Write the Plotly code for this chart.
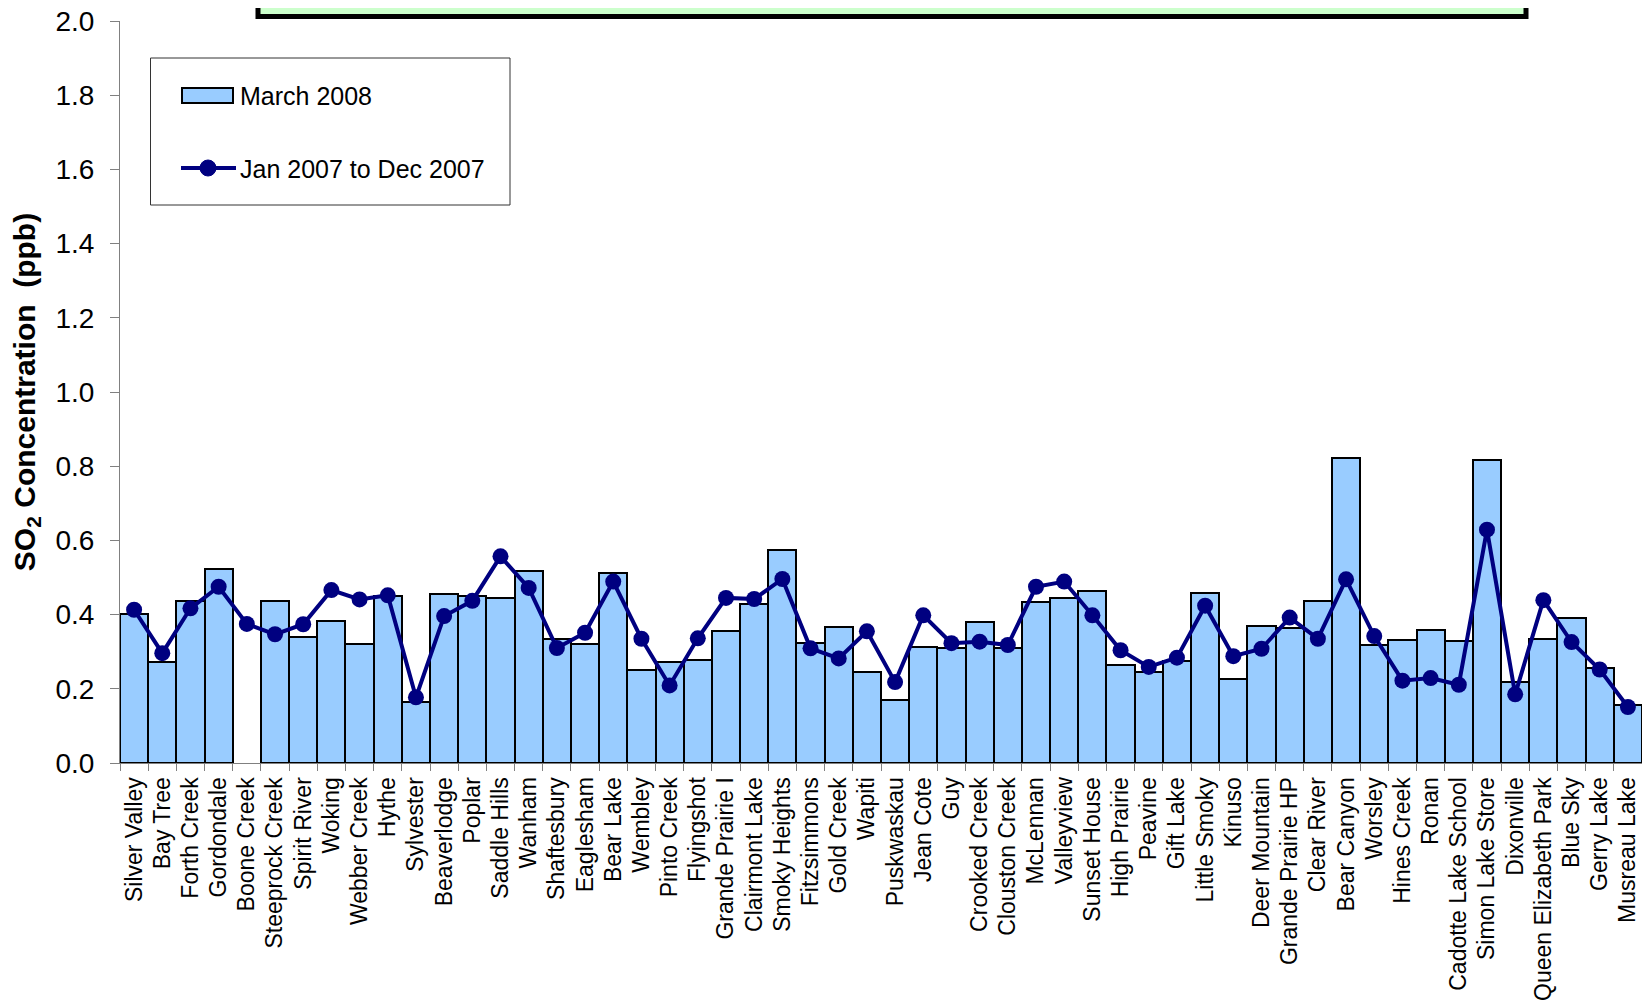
import plotly.graph_objects as go

stations = [
    "Silver Valley", "Bay Tree", "Forth Creek", "Gordondale", "Boone Creek",
    "Steeprock Creek", "Spirit River", "Woking", "Webber Creek", "Hythe",
    "Sylvester", "Beaverlodge", "Poplar", "Saddle Hills", "Wanham",
    "Shaftesbury", "Eaglesham", "Bear Lake", "Wembley", "Pinto Creek",
    "Flyingshot", "Grande Prairie I", "Clairmont Lake", "Smoky Heights",
    "Fitzsimmons", "Gold Creek", "Wapiti", "Puskwaskau", "Jean Cote", "Guy",
    "Crooked Creek", "Clouston Creek", "McLennan", "Valleyview", "Sunset House",
    "High Prairie", "Peavine", "Gift Lake", "Little Smoky", "Kinuso",
    "Deer Mountain", "Grande Prairie HP", "Clear River", "Bear Canyon",
    "Worsley", "Hines Creek", "Ronan", "Cadotte Lake School",
    "Simon Lake Store", "Dixonville", "Queen Elizabeth Park", "Blue Sky",
    "Gerry Lake", "Musreau Lake",
]

march_2008 = [
    0.401, 0.273, 0.438, 0.522, None, 0.438, 0.340, 0.383, 0.322, 0.450,
    0.165, 0.455, 0.449, 0.445, 0.518, 0.333, 0.322, 0.511, 0.251, 0.271,
    0.277, 0.355, 0.428, 0.575, 0.323, 0.367, 0.244, 0.171, 0.313, 0.309,
    0.380, 0.310, 0.435, 0.445, 0.463, 0.264, 0.245, 0.274, 0.459, 0.227,
    0.369, 0.365, 0.436, 0.822, 0.319, 0.332, 0.358, 0.328, 0.817, 0.217,
    0.333, 0.390, 0.257, 0.156,
]

year_2007 = [
    0.413, 0.296, 0.417, 0.475, 0.375, 0.347, 0.374, 0.466, 0.441, 0.452,
    0.177, 0.396, 0.437, 0.557, 0.472, 0.310, 0.351, 0.489, 0.335, 0.209,
    0.336, 0.445, 0.442, 0.496, 0.309, 0.282, 0.355, 0.218, 0.398, 0.323,
    0.327, 0.318, 0.475, 0.489, 0.398, 0.304, 0.259, 0.284, 0.424, 0.288,
    0.308, 0.392, 0.335, 0.495, 0.342, 0.222, 0.229, 0.211, 0.629, 0.185,
    0.439, 0.326, 0.252, 0.151,
]

y_ticks = [0.0, 0.2, 0.4, 0.6, 0.8, 1.0, 1.2, 1.4, 1.6, 1.8, 2.0]

FONT = "Liberation Sans, Arial, sans-serif"
OFF = 8  # default page body margin
W, H = 1650 - OFF, 1003 - OFF
L, R, T, B = 112, 8, 13, 240
PW, PH = W - L - R, H - T - B


def px(x):
    """page x pixel -> paper coordinate"""
    return (x - OFF - L) / PW


def py(y):
    """page y pixel -> paper coordinate"""
    return (H - B - (y - OFF)) / PH


fig = go.Figure()
fig.add_trace(go.Bar(
    x=stations, y=march_2008, name="March 2008",
    marker=dict(color="#99CCFF", line=dict(color="black", width=2)),
    showlegend=False,
))
fig.add_trace(go.Scatter(
    x=stations, y=year_2007, name="Jan 2007 to Dec 2007", mode="lines+markers",
    line=dict(color="#000080", width=4),
    marker=dict(color="#000080", size=16),
    showlegend=False,
))

shapes = [
    # cropped title box
    dict(type="rect", xref="paper", yref="paper",
         x0=px(258), x1=px(1526), y0=py(16.5), y1=py(-40),
         fillcolor="#CCFFCC", line=dict(color="black", width=5)),
    # legend box
    dict(type="rect", xref="paper", yref="paper",
         x0=px(150.5), x1=px(510), y0=py(205), y1=py(58),
         fillcolor="white", line=dict(color="#333333", width=1)),
    dict(type="rect", xref="paper", yref="paper",
         x0=px(182), x1=px(233), y0=py(103), y1=py(88),
         fillcolor="#99CCFF", line=dict(color="black", width=2)),
    dict(type="line", xref="paper", yref="paper",
         x0=px(181), x1=px(236), y0=py(168), y1=py(168),
         line=dict(color="#000080", width=4)),
    dict(type="circle", xref="paper", yref="paper",
         x0=px(208 - 8), x1=px(208 + 8), y0=py(168 + 8), y1=py(168 - 8),
         fillcolor="#000080", line=dict(color="#000080", width=1)),
]

annotations = [
    dict(text="March 2008", xref="paper", yref="paper", x=px(238), y=py(95.5),
         xanchor="left", yanchor="middle", showarrow=False,
         font=dict(family=FONT, size=25, color="black")),
    dict(text="Jan 2007 to Dec 2007", xref="paper", yref="paper", x=px(238), y=py(169),
         xanchor="left", yanchor="middle", showarrow=False,
         font=dict(family=FONT, size=25, color="black")),
]

fig.update_layout(
    width=W, height=H,
    margin=dict(l=L, r=R, t=T, b=B, pad=0),
    paper_bgcolor="white", plot_bgcolor="white",
    bargap=0,
    font=dict(family=FONT, color="black"),
    shapes=shapes, annotations=annotations,
    showlegend=False,
)
fig.update_xaxes(
    type="category", range=[-0.5, len(stations) - 0.5],
    tickmode="array", tickvals=stations, ticktext=stations,
    tickangle=-90, tickfont=dict(family=FONT, size=23, color="black"),
    ticklabelstandoff=4,
    showline=True, linecolor="#808080", linewidth=1,
    ticks="outside", ticklen=7, tickcolor="#808080", tickson="boundaries",
    showgrid=False, zeroline=False, automargin=False,
)
fig.update_yaxes(
    range=[0, 2.0], tickvals=y_ticks, ticktext=[f"{v:.1f}" for v in y_ticks],
    tickfont=dict(family=FONT, size=28, color="black"),
    ticklabeloverflow="allow",
    showline=True, linecolor="#808080", linewidth=1,
    ticks="outside", ticklen=9, tickcolor="#808080",
    ticklabelstandoff=10,
    showgrid=False, zeroline=False, automargin=False,
    title=dict(text="<b>SO<sub>2</sub> Concentration\u00a0 (ppb)</b>",
               font=dict(family=FONT, size=30, color="black"), standoff=14),
)

fig.write_html("out.html")
